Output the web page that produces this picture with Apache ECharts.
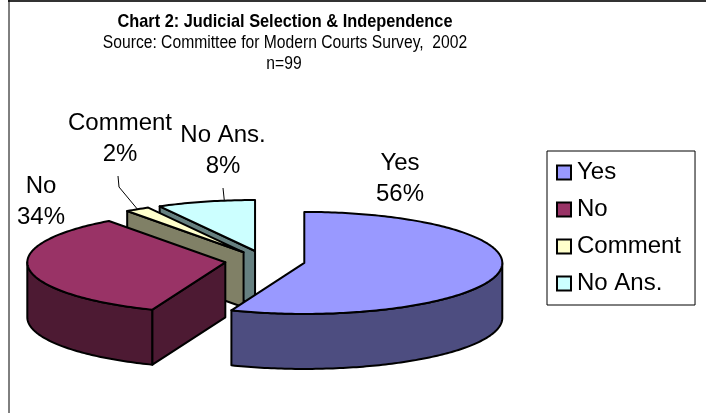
<!DOCTYPE html>
<html>
<head>
<meta charset="utf-8">
<script src="https://cdn.jsdelivr.net/npm/echarts@6/dist/echarts.min.js"></script>
<style>
  html, body { margin: 0; padding: 0; background: #fff; }
  #chart { width: 706px; height: 413px; }
</style>
</head>
<body>
<div id="chart"></div>
<script>
const categories = ['Yes', 'No', 'Comment', 'No Ans.'];
const percents = [56, 34, 2, 8];
const topColors = ['#9999FF', '#993366', '#FFFFCC', '#CCFFFF'];
const sideColors = ['#4D4D80', '#4D1A33', '#808066', '#668080'];

// 3d pie layout, px
const pie = { cx: 265, cy: 261, rx: 198, ry: 51, depth: 55, explode: 40 };
const sliceZ = [4, 3, 2, 1];
const labelPos = [[400, 179], [41, 202], [120, 139], [223, 151]];
// leader: polyline start points + where on the slice (fraction of its angle) it ends
const leaders = [null, null, { pts: [[118, 176], [119, 187]], at: 0.5 }, { pts: [[223, 188]], at: 0.69 }];
const FONT = "'Liberation Sans', Arial, sans-serif";

const total = percents.reduce((a, b) => a + b, 0);
const rad = (d) => (d * Math.PI) / 180;

function sliceGeom(i) {
  let before = 0;
  for (let k = 0; k < i; k++) before += percents[k];
  const a0 = (before / total) * 360;
  const a1 = ((before + percents[i]) / total) * 360;
  const b = rad((a0 + a1) / 2);
  const ox = pie.explode * Math.sin(b);
  const oy = -pie.explode * Math.cos(b) * (pie.ry / pie.rx);
  const pt = (deg, h) => [
    pie.cx + ox + pie.rx * Math.sin(rad(deg)),
    pie.cy + oy - pie.ry * Math.cos(rad(deg)) + (h || 0),
  ];
  const arc = (from, to, h) => {
    const out = [];
    const n = Math.max(2, Math.ceil(Math.abs(to - from)));
    for (let s = 0; s <= n; s++) out.push(pt(from + ((to - from) * s) / n, h));
    return out;
  };
  return { a0, a1, c: [pie.cx + ox, pie.cy + oy], pt, arc };
}

function renderSlice(i) {
  return function () {
    const g = sliceGeom(i);
    const d = pie.depth;
    const line = { stroke: '#000', lineWidth: 2, lineJoin: 'round' };
    const children = [];
    // outer wall, only the part facing the viewer
    const s = Math.max(g.a0, 90), e = Math.min(g.a1, 270);
    if (e > s) {
      const pts = g.arc(s, e, 0).concat(g.arc(e, s, d));
      children.push({ type: 'polygon', shape: { points: pts }, style: Object.assign({ fill: sideColors[i] }, line) });
    }
    const cTop = g.c, cBot = [g.c[0], g.c[1] + d];
    if (Math.sin(rad(g.a0)) < -1e-6) {
      children.push({ type: 'polygon', shape: { points: [cTop, g.pt(g.a0, 0), g.pt(g.a0, d), cBot] }, style: Object.assign({ fill: sideColors[i] }, line) });
    }
    if (Math.sin(rad(g.a1)) > 1e-6) {
      children.push({ type: 'polygon', shape: { points: [cTop, g.pt(g.a1, 0), g.pt(g.a1, d), cBot] }, style: Object.assign({ fill: sideColors[i] }, line) });
    }
    children.push({ type: 'polygon', shape: { points: [cTop].concat(g.arc(g.a0, g.a1, 0)) }, style: Object.assign({ fill: topColors[i] }, line) });

    const ld = leaders[i];
    if (ld) {
      const end = g.pt(g.a0 + (g.a1 - g.a0) * ld.at, 0);
      children.push({ type: 'polyline', shape: { points: ld.pts.concat([end]) }, style: { stroke: '#000', lineWidth: 1, fill: null } });
    }
    const pct = Math.round((percents[i] / total) * 100);
    children.push({
      type: 'text',
      style: {
        text: categories[i] + '\n' + pct + '%',
        x: labelPos[i][0], y: labelPos[i][1],
        align: 'center', verticalAlign: 'middle',
        textAlign: 'center', textVerticalAlign: 'middle',
        font: '24px ' + FONT, lineHeight: 31, fill: '#000',
      },
    });
    return { type: 'group', children };
  };
}

const chart = echarts.init(document.getElementById('chart'));

const series = categories.map((name, i) => ({
  name,
  type: 'custom',
  coordinateSystem: 'none',
  z: sliceZ[i],
  silent: true,
  itemStyle: { color: topColors[i] },
  data: [percents[i]],
  renderItem: renderSlice(i),
}));

chart.setOption({
  animation: false,
  color: topColors,
  legend: {
    data: categories,
    orient: 'vertical',
    left: 547,
    top: 151,
    padding: [8, 14, 8, 9],
    itemGap: 10,
    itemWidth: 14,
    itemHeight: 14,
    icon: 'rect',
    borderColor: '#000',
    borderWidth: 1,
    itemStyle: { borderColor: '#000', borderWidth: 2 },
    textStyle: { fontFamily: FONT, fontSize: 24, lineHeight: 27, color: '#000', padding: [0, 0, 0, 1] },
  },
  graphic: [
    { type: 'line', shape: { x1: 8, y1: 1, x2: 706, y2: 1 }, style: { stroke: '#333', lineWidth: 2 } },
    { type: 'line', shape: { x1: 9, y1: 0, x2: 9, y2: 413 }, style: { stroke: '#000', lineWidth: 1 } },
    { type: 'text', x: 285, y: 22, scaleX: 0.86, style: { text: 'Chart 2: Judicial Selection & Independence', x: 0, y: 0, align: 'center', verticalAlign: 'middle', font: 'bold 19px ' + FONT, fill: '#000' } },
    { type: 'text', x: 285, y: 43, scaleX: 0.87, style: { text: 'Source: Committee for Modern Courts Survey,  2002', x: 0, y: 0, align: 'center', verticalAlign: 'middle', font: '18px ' + FONT, fill: '#000' } },
    { type: 'text', x: 284, y: 64, scaleX: 0.87, style: { text: 'n=99', x: 0, y: 0, align: 'center', verticalAlign: 'middle', font: '18px ' + FONT, fill: '#000' } },
  ],
  series,
});
</script>
</body>
</html>
